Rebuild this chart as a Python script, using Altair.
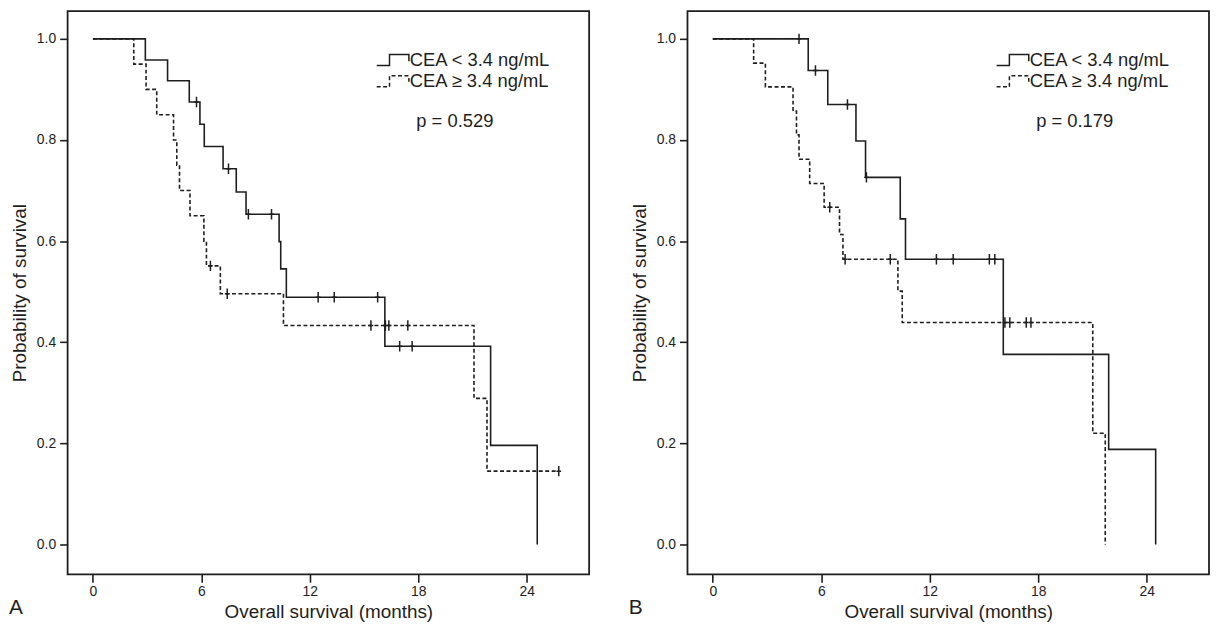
import altair as alt
import pandas as pd

FONT = "Liberation Sans"
INK = "#1e1e1e"

groups = ["CEA < 3.4 ng/mL", "CEA \u2265 3.4 ng/mL"]
p_texts = ["p = 0.529", "p = 0.179"]
letters = ["A", "B"]
x_ticks = [0, 6, 12, 18, 24]
y_ticks = [0.0, 0.2, 0.4, 0.6, 0.8, 1.0]

# ---- Panel A : step curves (event times, survival after event) ----
a_low_t = [0, 2.9, 4.13, 5.33, 5.92, 6.16, 7.2, 7.93, 8.47, 10.3, 10.39, 10.7, 16.15, 22.0, 24.58]
a_low_s = [1.0, 0.958, 0.917, 0.875, 0.831, 0.787, 0.743, 0.697, 0.653, 0.599, 0.545, 0.489, 0.392, 0.196, 0.0]
a_high_t = [0, 2.26, 2.94, 3.53, 4.46, 4.64, 4.79, 5.37, 6.14, 6.28, 7.05, 10.54, 21.08, 21.8, 25.77]
a_high_s = [1.0, 0.95, 0.90, 0.85, 0.80, 0.75, 0.70, 0.65, 0.60, 0.551, 0.496, 0.433, 0.289, 0.145, 0.145]
# censored observations
a_low_ct = [5.73, 7.5, 8.6, 9.88, 12.46, 13.35, 15.75, 16.97, 17.66]
a_low_cs = [0.875, 0.743, 0.653, 0.653, 0.489, 0.489, 0.489, 0.392, 0.392]
a_high_ct = [6.5, 7.43, 15.38, 16.18, 16.37, 17.42, 25.77]
a_high_cs = [0.551, 0.496, 0.433, 0.433, 0.433, 0.433, 0.145]

# ---- Panel B ----
b_low_t = [0, 5.28, 6.36, 7.92, 8.45, 10.37, 10.66, 16.07, 21.9, 24.5]
b_low_s = [1.0, 0.9375, 0.870, 0.798, 0.726, 0.644, 0.564, 0.376, 0.188, 0.0]
b_high_t = [0, 2.26, 2.91, 4.44, 4.63, 4.77, 5.36, 6.16, 7.01, 7.2, 10.24, 10.48, 21.02, 21.71]
b_high_s = [1.0, 0.952, 0.905, 0.857, 0.810, 0.762, 0.714, 0.667, 0.613, 0.564, 0.501, 0.439, 0.220, 0.0]
b_low_ct = [4.77, 5.68, 7.45, 8.5, 12.37, 13.3, 15.3, 15.6]
b_low_cs = [1.0, 0.9375, 0.870, 0.726, 0.564, 0.564, 0.564, 0.564]
b_high_ct = [6.47, 7.32, 9.82, 16.16, 16.43, 17.34, 17.6]
b_high_cs = [0.667, 0.564, 0.564, 0.439, 0.439, 0.439, 0.439]

# legend glyph (step shape)
GLYPH = "M-3.85,0.92H-1.7V-0.92H1.55V0.2"
CROSS = "M0,-1V1M-0.45,0H0.45"

W, H = 525, 567
xs = alt.Scale(domain=[-1.4, 27.45], nice=False, zero=False)
ys = alt.Scale(domain=[-0.059, 1.055], nice=False, zero=False)


def curves_df(t1, s1, t2, s2):
    rows = []
    for g, ts, ss in ((groups[0], t1, s1), (groups[1], t2, s2)):
        for i, (t, s) in enumerate(zip(ts, ss)):
            rows.append({"t": t, "s": s, "group": g, "o": i})
    return pd.DataFrame(rows)


def censor_df(t1, s1, t2, s2):
    rows = []
    for g, ts, ss in ((groups[0], t1, s1), (groups[1], t2, s2)):
        for t, s in zip(ts, ss):
            rows.append({"t": t, "s": s, "group": g})
    return pd.DataFrame(rows)


xaxis = alt.Axis(values=x_ticks, title="Overall survival (months)", tickSize=8,
                 labelFontSize=14, titleFontSize=19, titleFontWeight="normal",
                 labelPadding=2, titlePadding=5, grid=False, domain=False,
                 tickColor=INK, tickWidth=1.6, labelColor=INK, titleColor=INK,
                 labelFont=FONT, titleFont=FONT)
yaxis = alt.Axis(values=y_ticks, format=".1f", title="Probability of survival",
                 tickSize=8, labelFontSize=14, titleFontSize=19, titleFontWeight="normal",
                 labelPadding=4, titlePadding=7, grid=False, domain=False,
                 tickColor=INK, tickWidth=1.6, labelColor=INK, titleColor=INK,
                 labelFont=FONT, titleFont=FONT)


def panel(curves, cens, ptext, letter):
    dash = alt.StrokeDash(
        "group:N",
        scale=alt.Scale(domain=groups, range=[[1, 0], [4, 2.5]]),
        legend=alt.Legend(orient="none", legendX=325, legendY=40, title=None,
                          symbolType=GLYPH, symbolSize=144, symbolStrokeWidth=1.5,
                          symbolStrokeColor=INK, symbolFillColor="transparent",
                          labelFont=FONT, labelFontSize=18.5, labelColor=INK,
                          labelOffset=1, rowPadding=2.5, labelLimit=0, padding=0),
    )
    lines = alt.Chart(curves).mark_line(interpolate="step-after", color=INK, strokeWidth=1.6).encode(
        x=alt.X("t:Q", scale=xs, axis=xaxis),
        y=alt.Y("s:Q", scale=ys, axis=yaxis),
        strokeDash=dash,
        detail="group:N",
        order="o:Q",
    )
    ticks = alt.Chart(cens).mark_point(shape=CROSS, size=110, color=INK, strokeWidth=1.5,
                                       filled=False, opacity=1).encode(
        x=alt.X("t:Q", scale=xs),
        y=alt.Y("s:Q", scale=ys),
    )
    ptxt = alt.Chart(pd.DataFrame({"label": [ptext]})).mark_text(
        font=FONT, fontSize=18.5, color=INK, align="left", baseline="middle").encode(
        x=alt.value(351), y=alt.value(111), text="label:N")
    let = alt.Chart(pd.DataFrame({"label": [letter]})).mark_text(
        font=FONT, fontSize=21, color=INK, align="left", baseline="middle").encode(
        x=alt.value(-59), y=alt.value(601), text="label:N")
    return alt.layer(lines, ticks, ptxt, let).properties(width=W, height=H)


pa = panel(curves_df(a_low_t, a_low_s, a_high_t, a_high_s),
           censor_df(a_low_ct, a_low_cs, a_high_ct, a_high_cs), p_texts[0], letters[0])
pb = panel(curves_df(b_low_t, b_low_s, b_high_t, b_high_s),
           censor_df(b_low_ct, b_low_cs, b_high_ct, b_high_cs), p_texts[1], letters[1])

chart = alt.hconcat(pa, pb, spacing=38).resolve_scale(strokeDash="independent").properties(
    padding=0, background="white"
).configure_view(stroke=INK, strokeWidth=1.8)

chart.save("out.html", embed_options={"renderer": "svg", "actions": False})
